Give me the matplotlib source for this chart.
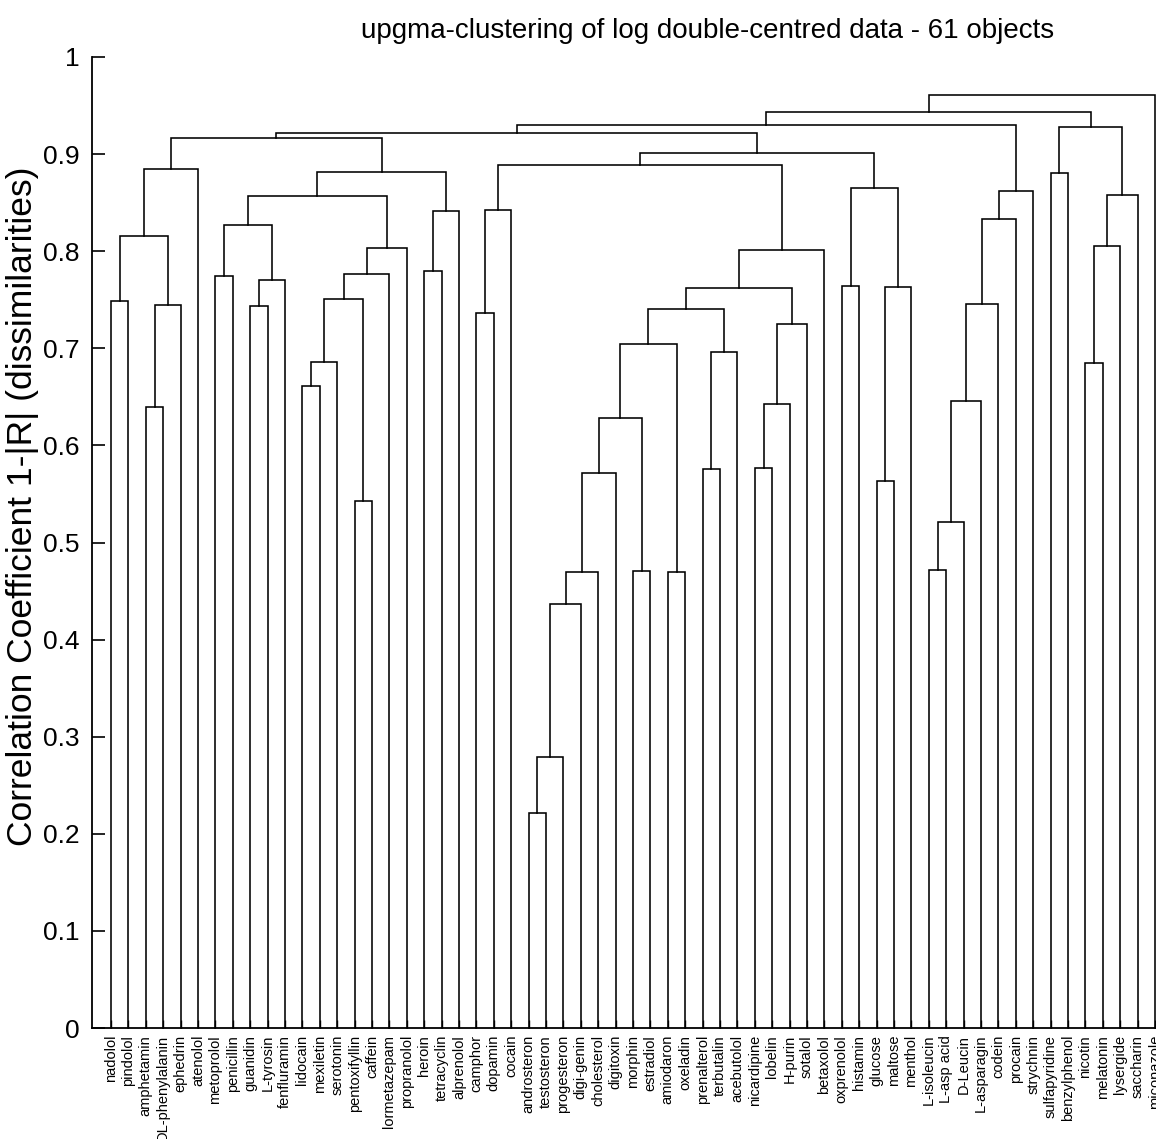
import matplotlib
matplotlib.use('Agg')
import matplotlib.pyplot as plt
import numpy as np

plt.rcParams['font.family'] = ['Liberation Sans', 'DejaVu Sans']

# leaf labels, left to right
labels = ['nadolol', 'pindolol', 'amphetamin', 'DL-phenylalanin', 'ephedrin', 'atenolol',
          'metoprolol', 'penicillin', 'guanidin', 'L-tyrosin', 'fenfluramin', 'lidocain',
          'mexiletin', 'serotonin', 'pentoxifyllin', 'caffein', 'lormetazepam', 'propranolol',
          'heroin', 'tetracyclin', 'alprenolol', 'camphor', 'dopamin', 'cocain',
          'androsteron', 'testosteron', 'progesteron', 'digi-genin', 'cholesterol', 'digitoxin',
          'morphin', 'estradiol', 'amiodaron', 'oxeladin', 'prenalterol', 'terbutalin',
          'acebutolol', 'nicardipine', 'lobelin', 'H-purin', 'sotalol', 'betaxolol',
          'oxprenolol', 'histamin', 'glucose', 'maltose', 'menthol', 'L-isoleucin',
          'L-asp acid', 'D-Leucin', 'L-asparagin', 'codein', 'procain', 'strychnin',
          'sulfapyridine', 'benzylphenol', 'nicotin', 'melatonin', 'lysergide', 'saccharin',
          'miconazole']

# merges (scipy style): ids < 61 are leaves, merge k gets id 61 + k
merge_a = [0, 2, 62, 61, 64, 6, 8, 67, 66, 11, 70, 14, 71, 73, 74, 69, 18, 77, 76, 65,
           21, 81, 24, 83, 84, 85, 86, 30, 87, 32, 89, 34, 92, 91, 37, 95, 96, 94, 98, 82,
           42, 44, 102, 101, 100, 80, 47, 107, 108, 109, 110, 111, 106, 54, 56, 115, 116, 114, 113, 119]
merge_b = [1, 3, 4, 63, 5, 7, 9, 10, 68, 12, 13, 15, 72, 16, 17, 75, 19, 20, 78, 79,
           22, 23, 25, 26, 27, 28, 29, 31, 88, 33, 90, 35, 36, 93, 38, 39, 40, 97, 41, 99,
           43, 45, 46, 103, 104, 105, 48, 49, 50, 51, 52, 53, 112, 55, 57, 58, 59, 117, 118, 60]
merge_h = [0.749, 0.640, 0.745, 0.816, 0.885, 0.774, 0.744, 0.770, 0.827, 0.661, 0.686, 0.543,
           0.751, 0.777, 0.803, 0.857, 0.780, 0.841, 0.882, 0.917,
           0.736, 0.842, 0.221, 0.279, 0.437, 0.470, 0.572, 0.471, 0.6285, 0.470, 0.704, 0.576,
           0.696, 0.740, 0.577, 0.643, 0.725, 0.762, 0.801, 0.889,
           0.764, 0.563, 0.763, 0.865, 0.901, 0.922, 0.472, 0.521, 0.646, 0.746, 0.833, 0.862,
           0.930, 0.8805, 0.685, 0.805, 0.858, 0.928, 0.943, 0.9605]

yticks = [0, 0.1, 0.2, 0.3, 0.4, 0.5, 0.6, 0.7, 0.8, 0.9, 1]
yticklabels = ['0', '0.1', '0.2', '0.3', '0.4', '0.5', '0.6', '0.7', '0.8', '0.9', '1']

n = len(labels)
fig = plt.figure(figsize=(11.56, 11.39), dpi=100)
ax = fig.add_axes([92 / 1156, 111 / 1139, 1064 / 1156, 971 / 1139])

# draw the U links, children sit at the mean x of their leaves
xpos = {i: i + 1.0 for i in range(n)}
hgt = {i: 0.0 for i in range(n)}
for k, (a, b, h) in enumerate(zip(merge_a, merge_b, merge_h)):
    xa, xb = xpos[a], xpos[b]
    ax.plot([xa, xa, xb, xb], [hgt[a], h, h, hgt[b]], color='black', lw=1.15,
            solid_joinstyle='miter', clip_on=False)
    xpos[n + k] = (xa + xb) / 2
    hgt[n + k] = h

sp = 17.4
ax.set_xlim(1 - 19 / sp, 1 + (1156 - 111) / sp)
ax.set_ylim(0, 1)
ax.spines['top'].set_visible(False)
ax.spines['right'].set_visible(False)
ax.spines['left'].set_linewidth(1.3)
ax.spines['bottom'].set_linewidth(1.3)

ax.set_yticks(yticks)
ax.set_yticklabels(yticklabels, fontsize=19)
ax.tick_params(axis='y', direction='in', length=9, width=1.2, pad=9)
ax.set_xticks(np.arange(1, n + 1))
ax.set_xticklabels(labels, rotation=90, fontsize=10.5)
ax.tick_params(axis='x', direction='in', length=6, width=1.0, pad=5)

fig.text(23 / 1156, 1 - 506 / 1139, 'Correlation Coefficient 1-|R| (dissimilarities)',
         rotation=90, ha='center', va='center', fontsize=25.5)
fig.text(708 / 1156, 1 - 31 / 1139, 'upgma-clustering of log double-centred data - 61 objects',
         ha='center', va='center', fontsize=20)

fig.savefig('out.png', dpi=100)
